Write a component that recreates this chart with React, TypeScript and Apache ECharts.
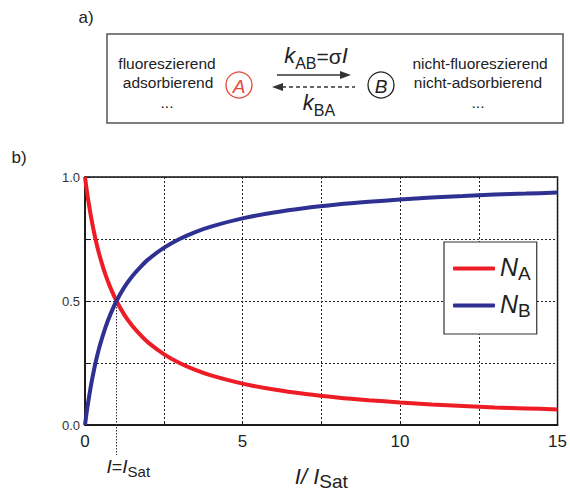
import React, { useEffect, useRef } from "react";
import * as echarts from "echarts";

// Intensity in units of the saturation intensity, I / I_Sat
const intensity = [0, 0.05, 0.1, 0.2, 0.3, 0.4, 0.5, 0.65, 0.8, 1, 1.25, 1.5, 1.75, 2, 2.5, 3, 3.5, 4, 5, 6, 7, 8, 9, 10, 11, 12, 13, 14, 15];
// Fraction of molecules in state A (fluorescent) and B (dark)
const fractionA = [1.0, 0.952, 0.909, 0.833, 0.769, 0.714, 0.667, 0.606, 0.556, 0.5, 0.444, 0.4, 0.364, 0.333, 0.286, 0.25, 0.222, 0.2, 0.167, 0.143, 0.125, 0.111, 0.1, 0.091, 0.083, 0.077, 0.071, 0.067, 0.0625];
const fractionB = [0.0, 0.048, 0.091, 0.167, 0.231, 0.286, 0.333, 0.394, 0.444, 0.5, 0.556, 0.6, 0.636, 0.667, 0.714, 0.75, 0.778, 0.8, 0.833, 0.857, 0.875, 0.889, 0.9, 0.909, 0.917, 0.923, 0.929, 0.933, 0.9375];
const seriesNames = ["N_A", "N_B"];
const xTickLabels = ["0", "5", "10", "15"];
const yTickLabels = ["0.0", "0.5", "1.0"];
const saturationPoint = 1;

const FONT = "'Liberation Sans', Arial, Helvetica, sans-serif";
const RED = "#ee1c25";
const BLUE = "#2e3192";
const INK = "#222";

function schemeGraphics(): any[] {
  const txt = (x: number, y: number, text: string, extra: any = {}) => ({
    type: "text",
    x,
    y,
    style: {
      text,
      fontFamily: FONT,
      fontSize: 15.5,
      fill: INK,
      align: "center",
      verticalAlign: "middle",
      ...extra,
    },
  });
  const sub = (x: number, y: number, text: string) => ({
    type: "text",
    x,
    y,
    style: {
      text,
      fontFamily: FONT,
      fill: INK,
      align: "center",
      verticalAlign: "middle",
      rich: {
        k: { fontSize: 22, fontStyle: "italic", fontFamily: FONT, fill: INK, verticalAlign: "bottom", padding: [0, 0, 5, 0] },
        s: { fontSize: 16, fontFamily: FONT, fill: INK, verticalAlign: "bottom" },
        e: { fontSize: 21, fontFamily: FONT, fill: INK, verticalAlign: "bottom", padding: [0, 0, 5, 0] },
      },
    },
  });
  return [
    txt(86, 17, "a)", { fontSize: 17 }),
    txt(19, 157, "b)", { fontSize: 17 }),
    {
      type: "rect",
      shape: { x: 107, y: 34, width: 456, height: 89 },
      style: { fill: "none", stroke: "#555", lineWidth: 1.5 },
    },
    txt(167, 63, "fluoreszierend"),
    txt(168, 82, "adsorbierend"),
    txt(167, 102, "..."),
    txt(480, 63, "nicht-fluoreszierend"),
    txt(478, 82, "nicht-adsorbierend"),
    txt(478, 102, "..."),
    {
      type: "circle",
      shape: { cx: 239, cy: 85, r: 13 },
      style: { fill: "#fff", stroke: "#e34a3a", lineWidth: 1.3 },
    },
    txt(239, 86, "A", { fontSize: 19, fontStyle: "italic", fill: "#e34a3a" }),
    {
      type: "circle",
      shape: { cx: 381, cy: 85, r: 13 },
      style: { fill: "#fff", stroke: INK, lineWidth: 1.3 },
    },
    txt(381, 86, "B", { fontSize: 19, fontStyle: "italic" }),
    // forward reaction A -> B
    {
      type: "line",
      shape: { x1: 277, y1: 75, x2: 342, y2: 75 },
      style: { stroke: "#333", lineWidth: 1.6 },
    },
    {
      type: "polygon",
      shape: { points: [[351, 75], [340, 71], [340, 79]] },
      style: { fill: "#333" },
    },
    // backward relaxation B -> A
    {
      type: "line",
      shape: { x1: 282, y1: 87, x2: 355, y2: 87 },
      style: { stroke: "#333", lineWidth: 1.4, lineDash: [4, 3] },
    },
    {
      type: "polygon",
      shape: { points: [[272, 87], [283, 83], [283, 91]] },
      style: { fill: "#333" },
    },
    sub(316, 58, "{k|k}{s|AB}{e|=σ}{k|I}"),
    sub(319, 105, "{k|k}{s|BA}"),
  ];
}

export default function App() {
  const ref = useRef<HTMLDivElement>(null);

  useEffect(() => {
    if (!ref.current) return;
    const chart = echarts.init(ref.current, null, { renderer: "svg" });
    const lineData = (ys: number[]) => intensity.map((x, i) => [x, ys[i]]);
    const option: any = {
      animation: false,
      backgroundColor: "#fff",
      grid: {
        left: 85,
        right: 10,
        top: 177,
        bottom: 71,
        show: true,
        borderColor: "#111",
        borderWidth: 1.5,
        backgroundColor: "transparent",
      },
      legend: {
        orient: "vertical",
        left: 444,
        top: 242,
        width: 92,
        padding: [12, 6, 14, 9],
        itemGap: 8,
        itemWidth: 42,
        itemHeight: 4,
        icon: "roundRect",
        backgroundColor: "#fff",
        borderColor: "#333",
        borderWidth: 1.2,
        borderRadius: 0,
        formatter: (name: string) => `{n|N}{s|${name.split("_")[1]}}`,
        textStyle: {
          rich: {
            n: { fontSize: 25, fontStyle: "italic", fontFamily: FONT, color: INK, verticalAlign: "bottom", padding: [0, 0, 4, 0] },
            s: { fontSize: 19, fontFamily: FONT, color: INK, verticalAlign: "bottom" },
          },
        },
      },
      xAxis: {
        type: "value",
        min: 0,
        max: 15,
        interval: 2.5,
        name: "{i|I/ I}{s|Sat}",
        nameLocation: "middle",
        nameGap: 40,
        nameTextStyle: {
          rich: {
            i: { fontSize: 22, fontStyle: "italic", fontFamily: FONT, color: INK, verticalAlign: "bottom", padding: [0, 0, 4, 0] },
            s: { fontSize: 19, fontFamily: FONT, color: INK, verticalAlign: "bottom" },
          },
        },
        axisLine: { lineStyle: { color: "#111", width: 1.5 } },
        axisTick: { show: true, inside: true, length: 4, lineStyle: { color: "#111" } },
        axisLabel: {
          fontSize: 17,
          fontFamily: FONT,
          color: INK,
          margin: 8,
          formatter: (v: number) => {
            const s = String(v);
            return xTickLabels.includes(s) ? s : "";
          },
        },
        splitLine: { show: true, lineStyle: { color: "#222", width: 1, type: [2, 2] } },
      },
      yAxis: {
        type: "value",
        min: 0,
        max: 1,
        interval: 0.25,
        axisLine: { show: true, lineStyle: { color: "#111", width: 1.5 } },
        axisTick: { show: true, inside: true, length: 4, lineStyle: { color: "#111" } },
        axisLabel: {
          fontSize: 13,
          fontFamily: FONT,
          color: "#333",
          margin: 5,
          formatter: (v: number) => {
            const s = v.toFixed(1);
            return yTickLabels.includes(s) && Math.abs(v * 2 - Math.round(v * 2)) < 1e-9 ? s : "";
          },
        },
        splitLine: { show: true, lineStyle: { color: "#222", width: 1, type: [2, 2] } },
      },
      series: [
        {
          name: seriesNames[0],
          type: "line",
          data: lineData(fractionA),
          smooth: 0.3,
          showSymbol: false,
          color: RED,
          lineStyle: { color: RED, width: 4 },
          z: 3,
        },
        {
          name: seriesNames[1],
          type: "line",
          data: lineData(fractionB),
          smooth: 0.3,
          showSymbol: false,
          color: BLUE,
          lineStyle: { color: BLUE, width: 4 },
          z: 3,
        },
      ],
      graphic: schemeGraphics(),
    };
    chart.setOption(option);

    // Saturation marker: dotted drop line from the crossing point below the axis, with its label
    const top = chart.convertToPixel({ gridIndex: 0 }, [saturationPoint, 0.5]);
    const base = chart.convertToPixel({ gridIndex: 0 }, [saturationPoint, 0]);
    if (top && base) {
      chart.setOption({
        graphic: [
          ...schemeGraphics(),
          {
            type: "line",
            shape: { x1: top[0], y1: top[1], x2: base[0], y2: base[1] + 30 },
            style: { stroke: "#333", lineWidth: 1, lineDash: [1.5, 1.5] },
            z: 1,
          },
          {
            type: "text",
            x: top[0] - 10,
            y: base[1] + 43,
            style: {
              text: "{i|I}{e|=}{i|I}{s|Sat}",
              align: "left",
              verticalAlign: "middle",
              rich: {
                i: { fontSize: 19, fontStyle: "italic", fontFamily: FONT, fill: INK, verticalAlign: "bottom", padding: [0, 0, 3, 0] },
                e: { fontSize: 18, fontFamily: FONT, fill: INK, verticalAlign: "bottom", padding: [0, 0, 3, 0] },
                s: { fontSize: 15, fontFamily: FONT, fill: INK, verticalAlign: "bottom" },
              },
            },
          },
        ],
      });
    }
    return () => chart.dispose();
  }, []);

  return (
    <div
      ref={ref}
      style={{ position: "fixed", left: 0, top: 0, width: 570, height: 496, background: "#fff" }}
    />
  );
}
